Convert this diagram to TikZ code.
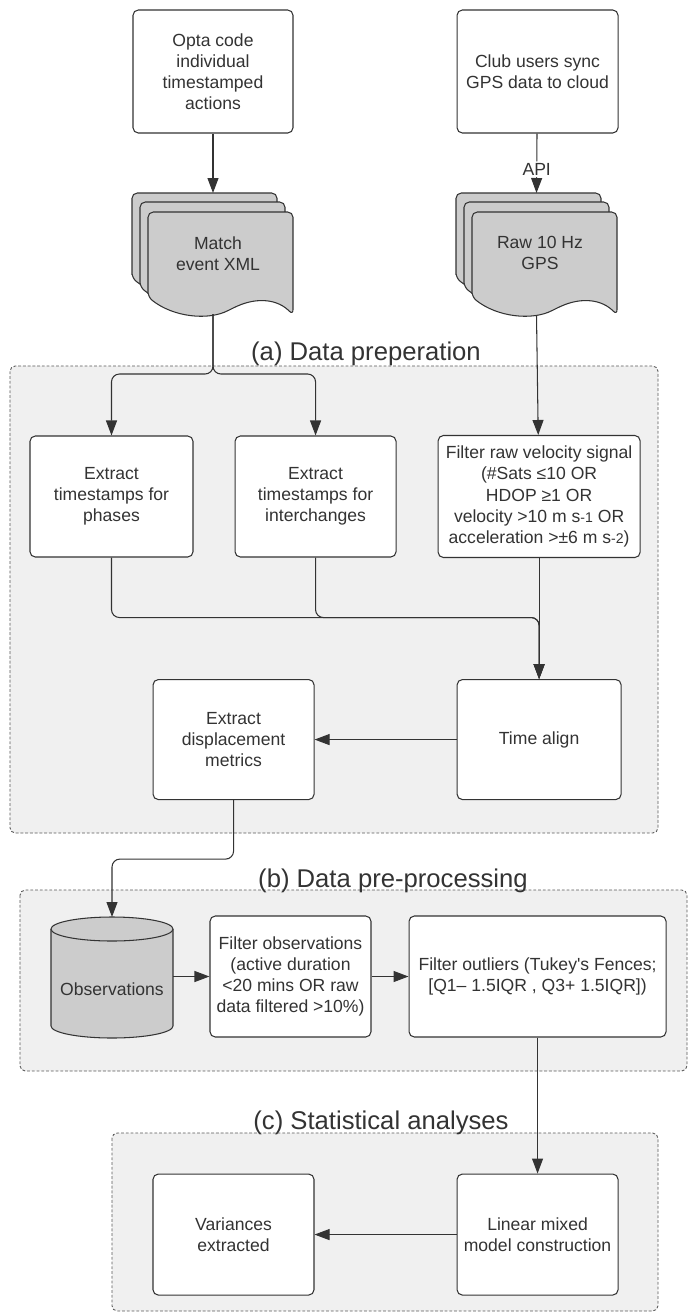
\documentclass[tikz,border=0pt]{standalone}
\usepackage{fontspec}
\setmainfont{Liberation Sans}
\usepackage{tikz}
\usetikzlibrary{arrows.meta,positioning,calc}
\definecolor{lineclr}{HTML}{333333}
\definecolor{textclr}{HTML}{333333}
\definecolor{grpfill}{HTML}{F0F0F0}
\definecolor{docfill}{HTML}{CCCCCC}
% one sheet of a stacked document, #1 = top left corner
\newcommand{\docpage}[1]{%
  \begin{scope}[shift={#1}]
    \draw[docsheet] (0,-1.7) -- (0,0) -- (2.9,0) -- (2.9,-2.06)
      .. controls (2.6,-1.75) and (2.2,-1.7) .. (1.7,-1.92)
      .. controls (1.2,-2.18) and (0.5,-2.1) .. (0,-1.7) -- cycle;
  \end{scope}}

\begin{document}
\begin{tikzpicture}[
  box/.style={rectangle, draw=lineclr, fill=white, rounded corners=3pt,
              line width=0.6pt, text=textclr, align=center,
              font=\fontsize{10}{12}\selectfont, inner sep=2pt},
  docsheet/.style={draw=lineclr, fill=docfill, line width=0.6pt, rounded corners=3pt},
  doctext/.style={text=textclr, align=center, font=\fontsize{10}{12}\selectfont},
  grp/.style={draw=black!65, fill=grpfill, line width=0.5pt,
              dash pattern=on 1.6pt off 1.1pt, rounded corners=3pt},
  grplabel/.style={text=textclr, anchor=base, inner sep=0pt,
                   font=\fontsize{14.6}{17}\selectfont},
  arr/.style={-{Triangle[length=3mm, width=2.2mm]}, draw=lineclr,
              line width=0.6pt, rounded corners=4.5pt},
  node distance=0.82cm
]
  \useasboundingbox (0,0) rectangle (13.76,-26.26);

  % groups
  \draw[grp] (0.2,-7.32) rectangle (13.16,-16.66);
  \draw[grp] (0.4,-17.8) rectangle (13.74,-21.42);
  \draw[grp] (2.24,-22.66) rectangle (13.16,-26.22);
  \node[grplabel] (lbla) at (7.32,-7.2)   {(a) Data preperation};
  \node[grplabel] (lblb) at (7.86,-17.74) {(b) Data pre-processing};
  \node[grplabel] (lblc) at (7.62,-22.58) {(c) Statistical analyses};

  % sources
  \node[box, minimum width=3.2cm, minimum height=2.46cm] (opta) at (4.26,-1.43)
    {Opta code\\individual\\timestamped\\actions};
  \node[box, minimum width=3.22cm, minimum height=2.46cm, right=3.26cm of opta] (club)
    {Club users sync\\GPS data to cloud};

  % stacked documents
  \docpage{(2.64,-3.86)} \docpage{(2.8,-4.04)} \docpage{(2.96,-4.24)}
  \docpage{(9.12,-3.86)} \docpage{(9.28,-4.04)} \docpage{(9.44,-4.24)}
  \node[doctext] (matchdoc) at (4.36,-5.08) {Match\\event XML};
  \node[doctext] (gpsdoc) at (10.8,-5.06) {Raw 10 Hz\\GPS};
  \coordinate (matchtop) at (4.26,-3.86);
  \coordinate (matchbot) at (4.26,-6.28);
  \coordinate (gpstop) at (10.73,-3.86);
  \coordinate (gpsbot) at (10.73,-6.3);

  % (a)
  \node[box, minimum width=3.26cm, minimum height=2.42cm] (phases) at (2.23,-9.93)
    {Extract\\timestamps for\\phases};
  \node[box, minimum width=3.22cm, minimum height=2.42cm, right=of phases] (inter)
    {Extract\\timestamps for\\interchanges};
  \node[box, minimum width=4.04cm, minimum height=2.44cm, right=of inter] (filtraw)
    {Filter raw velocity signal\\(\#Sats ≤10 OR\\HDOP ≥1 OR\\
     velocity >10 m s{\footnotesize -1} OR\\acceleration >±6 m s{\footnotesize -2})};
  \node[box, minimum width=3.28cm, minimum height=2.4cm, below=2.42cm of filtraw] (timealign)
    {Time align};
  \node[box, minimum width=3.22cm, minimum height=2.4cm, left=2.84cm of timealign] (disp)
    {Extract\\displacement\\metrics};

  % (b)
  \fill[docfill] (1.02,-18.58) -- (1.02,-20.52)
    arc[start angle=180, end angle=360, x radius=1.22cm, y radius=0.24cm]
    -- (3.46,-18.58) -- cycle;
  \draw[lineclr, line width=0.6pt] (1.02,-18.58) -- (1.02,-20.52)
    arc[start angle=180, end angle=360, x radius=1.22cm, y radius=0.24cm]
    -- (3.46,-18.58);
  \draw[lineclr, fill=docfill, line width=0.6pt] (2.24,-18.58)
    ellipse[x radius=1.22cm, y radius=0.24cm];
  \node[text=textclr, font=\fontsize{10}{12}\selectfont,
        minimum width=2.44cm, minimum height=1.94cm] (obs) at (2.24,-19.79) {Observations};
  \coordinate (obstop) at (2.24,-18.34);
  \node[box, minimum width=3.22cm, minimum height=2.42cm] (filtobs) at (5.81,-19.53)
    {Filter observations\\(active duration\\<20 mins OR raw\\data filtered >10\%)};
  \node[box, minimum width=5.14cm, minimum height=2.42cm, right=0.74cm of filtobs] (outl)
    {Filter outliers (Tukey\textquotesingle s Fences;\\{}[Q1– 1.5IQR , Q3+ 1.5IQR])};

  % (c)
  \node[box, minimum width=3.22cm, minimum height=2.42cm, below=2.72cm of outl] (lmm)
    {Linear mixed\\model construction};
  \node[box, minimum width=3.22cm, minimum height=2.42cm, left=2.84cm of lmm] (var)
    {Variances\\extracted};

  % connectors
  \draw[arr] (opta) -- (matchtop);
  \draw[arr] (club) -- (gpstop)
    node[pos=0.6, fill=white, inner sep=1pt, text=textclr,
         font=\fontsize{10}{12}\selectfont] (api) {API};
  \draw[arr] (matchbot) -- ++(0,-1.2) -| (phases.north);
  \draw[arr] (matchbot) -- ++(0,-1.2) -| (inter.north);
  \draw[arr] (gpsbot) -- (filtraw);
  \draw[arr] (filtraw) -- (timealign);
  \draw[arr] (phases.south) -- ++(0,-1.2) -| (timealign.north);
  \draw[arr] (inter.south) -- ++(0,-1.2) -| (timealign.north);
  \draw[arr] (timealign) -- (disp);
  \draw[arr] (disp.south) -- ++(0,-1.18) -| (obstop);
  \draw[arr] (obs.east |- filtobs) -- (filtobs);
  \draw[arr] (filtobs) -- (outl);
  \draw[arr] (outl) -- (lmm);
  \draw[arr] (lmm) -- (var);
\end{tikzpicture}
\end{document}
